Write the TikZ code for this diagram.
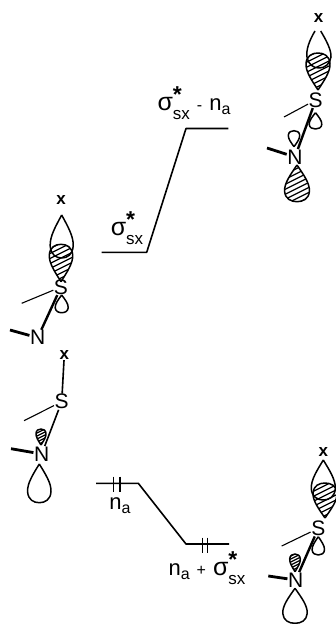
\documentclass[tikz,border=0pt]{standalone}
\usepackage{fontspec}
\setmainfont{Liberation Sans}
\newcommand{\fsz}[2]{{\fontsize{#1}{#1}\selectfont #2}}
\newcommand{\sigsx}{\fsz{25}{σ}\rlap{\raisebox{8pt}{\fsz{23}{\bfseries *}}}\raisebox{-9pt}{\fsz{17}{sx}}}
\newcommand{\nasub}{\fsz{22}{n}\raisebox{-4pt}{\fsz{16}{a}}}
\newcommand{\lobepath}{(0,0) .. controls (-.5,.25) and (-1.05,.5) .. (-1,.72)
    .. controls (-.95,.92) and (-.5,1) .. (0,1)
    .. controls (.5,1) and (.95,.92) .. (1,.72)
    .. controls (1.05,.5) and (.5,.25) .. (0,0)}
% one orbital lobe: tip x, tip y, far end y, half width
\newcommand{\lobe}[4]{
  \draw[lobeline, shift={(#1,#2)}, xscale=#4, yscale={#3-#2}] \lobepath;
}
% the same lobe with hatching, first argument is the spacing of the lines
\newcommand{\hatchlobe}[5][5]{
  \begin{scope}
    \path[clip, shift={(#2,#3)}, xscale=#5, yscale={#4-#3}] \lobepath;
    \pgfmathsetmacro{\ymid}{(#3+#4)/2}
    \foreach \k in {-7,...,7} {
      \draw[hatchline] (#2-20,\ymid+\k*#1+10) -- (#2+20,\ymid+\k*#1-10);
    }
  \end{scope}
  \lobe{#2}{#3}{#4}{#5}
}
\tikzset{
  atom/.style={inner sep=0.5pt, font=\fontsize{21}{21}\selectfont},
  xatom/.style={inner sep=0.5pt, font=\fontsize{17}{17}\selectfont\bfseries},
  lbl/.style={inner sep=0pt},
  lobeline/.style={line width=1.5pt, line join=round},
  hatchline/.style={line width=1.2pt},
  thinbond/.style={line width=1.1pt},
  boldbond/.style={line width=2.4pt},
  bar/.style={line width=2.8pt},
  level/.style={line width=1.6pt, line join=round},
  spin/.style={line width=1.4pt}
}
\begin{document}
\begin{tikzpicture}[x=1pt, y=-1pt]
  \useasboundingbox (0,0) rectangle (336,624);

  % Draw top right molecule
  \node[xatom] (x1) at (318.7,18) {x};
  \node[atom] (S1) at (315.7,100) {S};
  \node[atom] (N1) at (295,157) {N};
  \coordinate (T1) at (284,117);
  \coordinate (B1) at (267,148);
  \draw[lobeline] (315,31) .. controls (309,41) and (306,50) .. (307,57)
    .. controls (308,64) and (313,68) .. (319,68)
    .. controls (325,68) and (330,64) .. (331,57)
    .. controls (331.5,50) and (326,40) .. (320.7,31);
  \hatchlobe{318}{90}{53}{12}
  \lobe{315.5}{112.7}{129}{6.3}
  \lobe{294}{146.7}{130.7}{5.7}
  \hatchlobe{297}{165}{201.7}{12.4}
  \draw[thinbond] (S1) -- (T1);
  \draw[boldbond] (S1) -- (N1);
  \draw[bar] (B1) -- (N1);

  % Draw middle left molecule
  \node[xatom] (x2) at (61,200) {x};
  \node[atom] (S2) at (61,287) {S};
  \node[atom] (N2) at (37.7,337.7) {N};
  \coordinate (T2) at (21.7,303.3);
  \coordinate (B2) at (10,330);
  \lobe{61.7}{215}{258}{11.5}
  \hatchlobe{61}{281.7}{244.3}{11.7}
  \lobe{61.7}{295}{312.7}{6.5}
  \draw[thinbond] (S2) -- (T2);
  \draw[boldbond] (S2) -- (N2);
  \draw[bar] (B2) -- (N2);

  % Draw lower left molecule
  \node[xatom] (x3) at (64.3,355) {x};
  \node[atom] (S3) at (61.7,401.7) {S};
  \node[atom] (N3) at (41.7,454) {N};
  \coordinate (T3) at (24,420.7);
  \coordinate (B3) at (11,448.7);
  \hatchlobe[3]{41}{445}{429}{5}
  \lobe{39.3}{464}{502.7}{11.7}
  \draw[thinbond, line width=1.6pt] (x3) -- (S3);
  \draw[thinbond] (S3) -- (T3);
  \draw[thinbond, line width=1.6pt] (S3) -- (N3);
  \draw[bar] (B3) -- (N3);

  % Draw lower right molecule
  \node[xatom] (x4) at (323.3,451.7) {x};
  \node[atom] (S4) at (318.3,528.3) {S};
  \node[atom] (N4) at (295.7,580) {N};
  \coordinate (T4) at (281.7,546);
  \coordinate (B4) at (268.3,576);
  \lobe{323.3}{460}{500}{12}
  \hatchlobe{325}{518}{483}{12}
  \lobe{318.3}{536.7}{555}{6.2}
  \hatchlobe[3]{295}{571.7}{554}{5.3}
  \lobe{295}{588.3}{623.3}{12.2}
  \draw[thinbond] (S4) -- (T4);
  \draw[boldbond] (S4) -- (N4);
  \draw[bar] (B4) -- (N4);

  % Draw upper levels
  \coordinate (sxL) at (101.7,252.3);
  \coordinate (sxR) at (146.7,252.3);
  \coordinate (minusL) at (186,128.5);
  \coordinate (minusR) at (228.3,128.5);
  \draw[level] (sxL) -- (sxR) -- (minusL) -- (minusR);

  % Draw lower levels
  \coordinate (naL) at (96,483.3);
  \coordinate (naR) at (138.3,483.3);
  \coordinate (plusL) at (186,544);
  \coordinate (plusR) at (229,544);
  \draw[level] (naL) -- (naR) -- (plusL) -- (plusR);

  % Draw electron ticks
  \foreach \t in {113.5,120} {
    \draw[spin] (\t,476.5) -- (\t,491.5);
  }
  \foreach \t in {202.7,207.3} {
    \draw[spin] (\t,537.5) -- (\t,552.5);
  }

  % Draw labels
  \node[lbl] (sxlabel) at (127,228) {\sigsx};
  \node[lbl] (minuslabel) at (194,103) {\sigsx\hspace{7pt}\fsz{16}{-}\hspace{7pt}\nasub};
  \node[lbl] (nalabel) at (120,506) {\nasub};
  \node[lbl] (pluslabel) at (207,568) {\nasub\hspace{7pt}\fsz{16}{+}\hspace{7pt}\sigsx};
\end{tikzpicture}
\end{document}
